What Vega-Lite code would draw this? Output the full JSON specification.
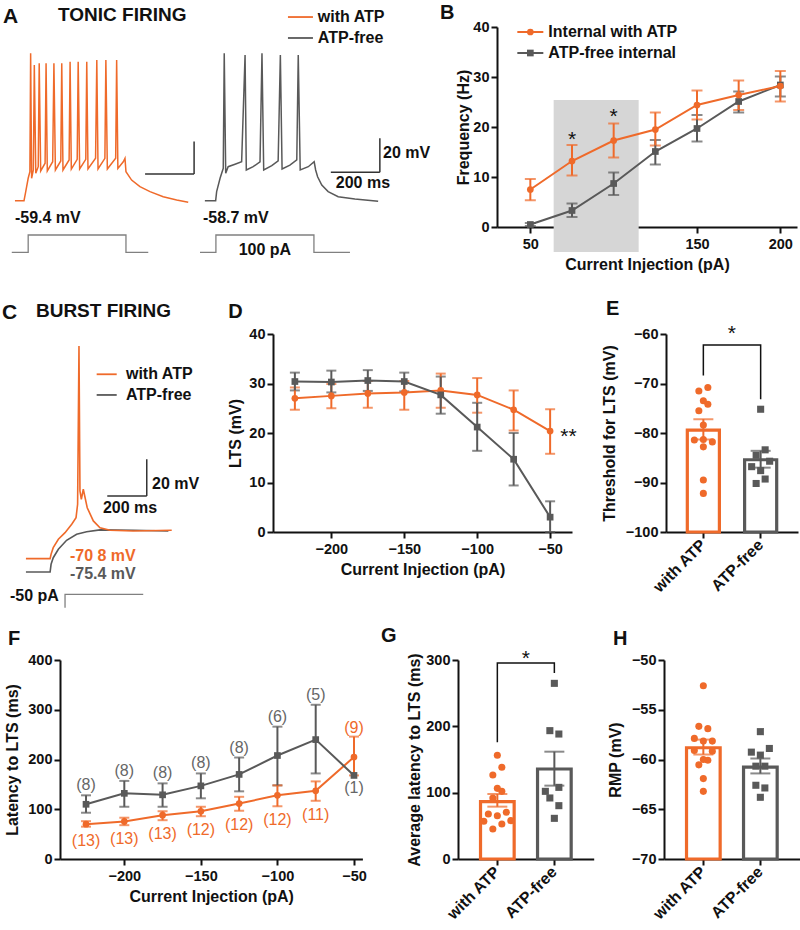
{
"$schema":"https://vega.github.io/schema/vega-lite/v6.json",
"background":"white",
"padding":{"left":0,"top":0,"right":0,"bottom":0},
"spacing":0,
"bounds":"full",
"config":{
 "font":"Liberation Sans",
 "view":{"stroke":null},
 "legend":{"disable":true},
 "axis":{"domainColor":"#111","domainWidth":2,"tickColor":"#111","tickWidth":2,"tickSize":6,"labelFontSize":14.5,"labelFontWeight":"bold","labelColor":"#111","titleFontSize":16,"titleFontWeight":"bold","titleColor":"#111","grid":false,"zindex":1},
 "axisX":{"labelPadding":4,"titlePadding":6},
 "axisY":{"labelPadding":2,"titlePadding":5},
 "title":{"fontSize":20,"fontWeight":"bold","anchor":"start","frame":"group","color":"#111","baseline":"alphabetic"}
},
"datasets":{
 "A_traces":[
  {"trace":"with ATP","t":61,"v":-59.4},{"trace":"with ATP","t":98,"v":-59.4},{"trace":"with ATP","t":105,"v":-53.9},{"trace":"with ATP","t":115,"v":-45.8},{"trace":"with ATP","t":122,"v":-41.8},{"trace":"with ATP","t":125,"v":29.9},{"trace":"with ATP","t":129,"v":-45.8},{"trace":"with ATP","t":136,"v":-40.8},{"trace":"with ATP","t":140,"v":22.8},{"trace":"with ATP","t":146,"v":-42.8},{"trace":"with ATP","t":156,"v":-38.8},{"trace":"with ATP","t":160,"v":23.9},{"trace":"with ATP","t":166,"v":-41.4},{"trace":"with ATP","t":184,"v":-36.7},{"trace":"with ATP","t":188,"v":23.9},{"trace":"with ATP","t":193,"v":-41.4},{"trace":"with ATP","t":215,"v":-35.8},{"trace":"with ATP","t":220,"v":23.9},{"trace":"with ATP","t":226,"v":-40.8},{"trace":"with ATP","t":248,"v":-35.3},{"trace":"with ATP","t":252,"v":23.9},{"trace":"with ATP","t":257,"v":-40.8},{"trace":"with ATP","t":282,"v":-34.7},{"trace":"with ATP","t":286,"v":24.8},{"trace":"with ATP","t":291,"v":-40.2},{"trace":"with ATP","t":315,"v":-34.3},{"trace":"with ATP","t":319,"v":24.8},{"trace":"with ATP","t":325,"v":-40.2},{"trace":"with ATP","t":350,"v":-34.3},{"trace":"with ATP","t":354,"v":24.8},{"trace":"with ATP","t":359,"v":-40.2},{"trace":"with ATP","t":390,"v":-33.7},{"trace":"with ATP","t":395,"v":25.9},{"trace":"with ATP","t":400,"v":-40.2},{"trace":"with ATP","t":428,"v":-33.7},{"trace":"with ATP","t":432,"v":25.9},{"trace":"with ATP","t":438,"v":-40.2},{"trace":"with ATP","t":472,"v":-33.7},{"trace":"with ATP","t":476,"v":25.9},{"trace":"with ATP","t":481,"v":-39.8},{"trace":"with ATP","t":503,"v":-35.8},{"trace":"with ATP","t":510,"v":-33.7},{"trace":"with ATP","t":514,"v":-41.8},{"trace":"with ATP","t":537,"v":-46.9},{"trace":"with ATP","t":571,"v":-50.9},{"trace":"with ATP","t":612,"v":-53.9},{"trace":"with ATP","t":666,"v":-57.0},{"trace":"with ATP","t":721,"v":-59.0},{"trace":"with ATP","t":768,"v":-60.4},
  {"trace":"ATP-free","t":836,"v":-59.4},{"trace":"ATP-free","t":880,"v":-59.4},{"trace":"ATP-free","t":884,"v":-53.9},{"trace":"ATP-free","t":898,"v":-45.8},{"trace":"ATP-free","t":911,"v":-39.8},{"trace":"ATP-free","t":915,"v":29.9},{"trace":"ATP-free","t":921,"v":-42.8},{"trace":"ATP-free","t":931,"v":-38.8},{"trace":"ATP-free","t":959,"v":-37.3},{"trace":"ATP-free","t":986,"v":-35.8},{"trace":"ATP-free","t":1000,"v":28.9},{"trace":"ATP-free","t":1005,"v":-40.8},{"trace":"ATP-free","t":1033,"v":-38.8},{"trace":"ATP-free","t":1061,"v":-35.8},{"trace":"ATP-free","t":1069,"v":29.9},{"trace":"ATP-free","t":1076,"v":-40.8},{"trace":"ATP-free","t":1109,"v":-38.2},{"trace":"ATP-free","t":1135,"v":-35.3},{"trace":"ATP-free","t":1144,"v":28.9},{"trace":"ATP-free","t":1151,"v":-40.2},{"trace":"ATP-free","t":1183,"v":-37.8},{"trace":"ATP-free","t":1211,"v":-34.7},{"trace":"ATP-free","t":1217,"v":28.9},{"trace":"ATP-free","t":1225,"v":-40.8},{"trace":"ATP-free","t":1258,"v":-38.8},{"trace":"ATP-free","t":1282,"v":-35.8},{"trace":"ATP-free","t":1288,"v":-40.8},{"trace":"ATP-free","t":1296,"v":-44.9},{"trace":"ATP-free","t":1313,"v":-49.9},{"trace":"ATP-free","t":1339,"v":-53.9},{"trace":"ATP-free","t":1380,"v":-57.0},{"trace":"ATP-free","t":1448,"v":-58.4},{"trace":"ATP-free","t":1543,"v":-59.8}
 ],
 "A_stim":[
  {"trace":"with ATP","i":0,"t":48,"pA":0},{"trace":"with ATP","i":1,"t":115,"pA":0},{"trace":"with ATP","i":2,"t":115,"pA":100},{"trace":"with ATP","i":3,"t":514,"pA":100},{"trace":"with ATP","i":4,"t":514,"pA":0},{"trace":"with ATP","i":5,"t":605,"pA":0},
  {"trace":"ATP-free","i":0,"t":816,"pA":0},{"trace":"ATP-free","i":1,"t":881,"pA":0},{"trace":"ATP-free","i":2,"t":881,"pA":100},{"trace":"ATP-free","i":3,"t":1281,"pA":100},{"trace":"ATP-free","i":4,"t":1281,"pA":0},{"trace":"ATP-free","i":5,"t":1428,"pA":0}
 ],
 "C_traces":[
  {"trace":"ATP-free","t":132,"v":-78.1},{"trace":"ATP-free","t":255,"v":-78.1},{"trace":"ATP-free","t":260,"v":-73.9},{"trace":"ATP-free","t":271,"v":-70.3},{"trace":"ATP-free","t":297,"v":-65.7},{"trace":"ATP-free","t":339,"v":-60.8},{"trace":"ATP-free","t":390,"v":-57.5},{"trace":"ATP-free","t":441,"v":-56.1},{"trace":"ATP-free","t":509,"v":-55.1},{"trace":"ATP-free","t":678,"v":-55.3},{"trace":"ATP-free","t":857,"v":-55.7},
  {"trace":"with ATP","t":132,"v":-70.8},{"trace":"with ATP","t":255,"v":-70.8},{"trace":"with ATP","t":260,"v":-68.4},{"trace":"with ATP","t":271,"v":-64.8},{"trace":"with ATP","t":297,"v":-60.2},{"trace":"with ATP","t":331,"v":-56.6},{"trace":"with ATP","t":365,"v":-52.0},{"trace":"with ATP","t":387,"v":-48.4},{"trace":"with ATP","t":395,"v":-41.1},{"trace":"with ATP","t":402,"v":45.3},{"trace":"with ATP","t":407,"v":-33.8},{"trace":"with ATP","t":414,"v":-38.4},{"trace":"with ATP","t":424,"v":-32.9},{"trace":"with ATP","t":444,"v":-43.0},{"trace":"with ATP","t":475,"v":-50.2},{"trace":"with ATP","t":509,"v":-53.9},{"trace":"with ATP","t":560,"v":-55.3},{"trace":"with ATP","t":678,"v":-55.7},{"trace":"with ATP","t":874,"v":-55.3}
 ],
 "C_stim":[{"i":0,"t":331,"pA":-50},{"i":1,"t":331,"pA":0},{"i":2,"t":729,"pA":0}],
 "B":[
  {"g":"ATP-free","x":50,"y":0.5,"lo":0.2,"hi":0.8},{"g":"ATP-free","x":75,"y":3.3,"lo":2.0,"hi":4.7},{"g":"ATP-free","x":100,"y":8.7,"lo":6.4,"hi":10.9},{"g":"ATP-free","x":125,"y":15.1,"lo":12.5,"hi":17.4},{"g":"ATP-free","x":150,"y":19.7,"lo":17.1,"hi":22.4},{"g":"ATP-free","x":175,"y":25.1,"lo":22.9,"hi":27.1},{"g":"ATP-free","x":200,"y":28.4,"lo":26.1,"hi":30.1},
  {"g":"with ATP","x":50,"y":7.5,"lo":5.35,"hi":9.6},{"g":"with ATP","x":75,"y":13.2,"lo":10.3,"hi":16.4},{"g":"with ATP","x":100,"y":17.3,"lo":13.9,"hi":20.7},{"g":"with ATP","x":125,"y":19.5,"lo":16.3,"hi":22.9},{"g":"with ATP","x":150,"y":24.4,"lo":21.5,"hi":27.3},{"g":"with ATP","x":175,"y":26.4,"lo":23.4,"hi":29.3},{"g":"with ATP","x":200,"y":28.2,"lo":25.1,"hi":31.2}
 ],
 "D":[
  {"g":"with ATP","x":-225,"y":27.0,"lo":24.7,"hi":29.2},{"g":"with ATP","x":-200,"y":27.5,"lo":25.0,"hi":29.9},{"g":"with ATP","x":-175,"y":28.0,"lo":25.1,"hi":30.5},{"g":"with ATP","x":-150,"y":28.2,"lo":24.7,"hi":30.5},{"g":"with ATP","x":-125,"y":28.6,"lo":25.1,"hi":32.0},{"g":"with ATP","x":-100,"y":27.7,"lo":24.1,"hi":31.1},{"g":"with ATP","x":-75,"y":24.7,"lo":20.5,"hi":28.6},{"g":"with ATP","x":-50,"y":20.4,"lo":15.8,"hi":24.8},
  {"g":"ATP-free","x":-225,"y":30.4,"lo":28.6,"hi":32.2},{"g":"ATP-free","x":-200,"y":30.3,"lo":28.2,"hi":32.6},{"g":"ATP-free","x":-175,"y":30.6,"lo":28.5,"hi":32.7},{"g":"ATP-free","x":-150,"y":30.4,"lo":28.4,"hi":32.2},{"g":"ATP-free","x":-125,"y":27.7,"lo":23.9,"hi":31.4},{"g":"ATP-free","x":-100,"y":21.2,"lo":16.4,"hi":26.1},{"g":"ATP-free","x":-75,"y":14.7,"lo":9.4,"hi":20.0},{"g":"ATP-free","x":-50,"y":3.0,"lo":0,"hi":6.2}
 ],
 "F":[
  {"g":"with ATP","x":-225,"y":70,"lo":65,"hi":76,"n":"(13)"},{"g":"with ATP","x":-200,"y":75.5,"lo":68,"hi":83,"n":"(13)"},{"g":"with ATP","x":-175,"y":88,"lo":78,"hi":96,"n":"(13)"},{"g":"with ATP","x":-150,"y":96,"lo":86,"hi":105,"n":"(12)"},{"g":"with ATP","x":-125,"y":111.5,"lo":97,"hi":125,"n":"(12)"},{"g":"with ATP","x":-100,"y":128,"lo":106,"hi":148,"n":"(12)"},{"g":"with ATP","x":-75,"y":137,"lo":117,"hi":156,"n":"(11)"},{"g":"with ATP","x":-50,"y":205,"lo":168,"hi":246,"n":"(9)"},
  {"g":"ATP-free","x":-225,"y":110,"lo":93,"hi":128,"n":"(8)"},{"g":"ATP-free","x":-200,"y":132,"lo":105,"hi":157,"n":"(8)"},{"g":"ATP-free","x":-175,"y":129,"lo":105,"hi":152,"n":"(8)"},{"g":"ATP-free","x":-150,"y":147,"lo":122,"hi":172,"n":"(8)"},{"g":"ATP-free","x":-125,"y":170,"lo":136,"hi":204,"n":"(8)"},{"g":"ATP-free","x":-100,"y":208,"lo":148,"hi":266,"n":"(6)"},{"g":"ATP-free","x":-75,"y":240,"lo":172,"hi":310,"n":"(5)"},{"g":"ATP-free","x":-50,"y":168,"lo":null,"hi":null,"n":"(1)"}
 ],
 "E_bar":[{"g":"with ATP","m":-79.4,"lo":-81.3,"hi":-77.2},{"g":"ATP-free","m":-85.4,"lo":-87.0,"hi":-83.6}],
 "E_pts":[
  {"g":"with ATP","v":-71.5,"j":-1},{"g":"with ATP","v":-70.8,"j":1},{"g":"with ATP","v":-73.5,"j":0},{"g":"with ATP","v":-74.2,"j":1},{"g":"with ATP","v":-75.5,"j":-1},{"g":"with ATP","v":-78.4,"j":0},{"g":"with ATP","v":-81.4,"j":-2},{"g":"with ATP","v":-81.3,"j":0},{"g":"with ATP","v":-81.8,"j":2},{"g":"with ATP","v":-82.8,"j":0},{"g":"with ATP","v":-89.5,"j":0},{"g":"with ATP","v":-92.2,"j":0},
  {"g":"ATP-free","v":-75.2,"j":0},{"g":"ATP-free","v":-83.4,"j":1},{"g":"ATP-free","v":-84.5,"j":-1},{"g":"ATP-free","v":-85.7,"j":2},{"g":"ATP-free","v":-86.8,"j":-2},{"g":"ATP-free","v":-87.6,"j":0},{"g":"ATP-free","v":-89.3,"j":1},{"g":"ATP-free","v":-90.2,"j":-1}
 ],
 "E_br":[{"g":"with ATP","v":-68.4,"i":0},{"g":"with ATP","v":-62.2,"i":1},{"g":"ATP-free","v":-62.2,"i":2},{"g":"ATP-free","v":-73.2,"i":3}],
 "G_bar":[{"g":"with ATP","m":86.4,"lo":78.9,"hi":98},{"g":"ATP-free","m":135.7,"lo":110.6,"hi":161.8}],
 "G_pts":[
  {"g":"with ATP","v":156.3,"j":0},{"g":"with ATP","v":138.2,"j":1},{"g":"with ATP","v":126.6,"j":-1},{"g":"with ATP","v":106.5,"j":0},{"g":"with ATP","v":102,"j":1},{"g":"with ATP","v":92,"j":-1},{"g":"with ATP","v":67.8,"j":-2},{"g":"with ATP","v":65.3,"j":0},{"g":"with ATP","v":70.4,"j":2},{"g":"with ATP","v":56.8,"j":-3},{"g":"with ATP","v":52.8,"j":1},{"g":"with ATP","v":57.8,"j":3},{"g":"with ATP","v":45.2,"j":-1},
  {"g":"ATP-free","v":264.8,"j":0},{"g":"ATP-free","v":193.5,"j":-1},{"g":"ATP-free","v":188.4,"j":1},{"g":"ATP-free","v":102,"j":-2},{"g":"ATP-free","v":108,"j":1},{"g":"ATP-free","v":92,"j":-1},{"g":"ATP-free","v":80.4,"j":1},{"g":"ATP-free","v":61.3,"j":0}
 ],
 "G_br":[{"g":"with ATP","v":175.9,"i":0},{"g":"with ATP","v":295.5,"i":1},{"g":"ATP-free","v":295.5,"i":2},{"g":"ATP-free","v":280.4,"i":3}],
 "H_bar":[{"g":"with ATP","m":-58.82,"lo":-59.5,"hi":-58.0},{"g":"ATP-free","m":-60.77,"lo":-61.4,"hi":-59.9}],
 "H_pts":[
  {"g":"with ATP","v":-52.59,"j":0},{"g":"with ATP","v":-56.67,"j":-1},{"g":"with ATP","v":-56.9,"j":1},{"g":"with ATP","v":-57.88,"j":-2},{"g":"with ATP","v":-58.15,"j":0},{"g":"with ATP","v":-58.15,"j":2},{"g":"with ATP","v":-59.09,"j":-2},{"g":"with ATP","v":-59.16,"j":2},{"g":"with ATP","v":-60.0,"j":0},{"g":"with ATP","v":-60.54,"j":-1},{"g":"with ATP","v":-60.07,"j":1},{"g":"with ATP","v":-61.92,"j":0},{"g":"with ATP","v":-63.2,"j":0},
  {"g":"ATP-free","v":-57.2,"j":0},{"g":"ATP-free","v":-59.26,"j":-2},{"g":"ATP-free","v":-58.89,"j":2},{"g":"ATP-free","v":-59.56,"j":0},{"g":"ATP-free","v":-60.67,"j":-1},{"g":"ATP-free","v":-60.67,"j":1},{"g":"ATP-free","v":-62.59,"j":-1},{"g":"ATP-free","v":-62.86,"j":1},{"g":"ATP-free","v":-63.8,"j":0}
 ]
},
"vconcat":[
 {"hconcat":[
  {"width":497,"height":200,
   "resolve":{"scale":{"y":"independent"}},
   "layer":[
    {"data":{"name":"A_stim"},"mark":{"type":"line","color":"#808080","strokeWidth":1.3},
     "encoding":{"x":{"field":"t","type":"quantitative","scale":{"domain":[0,2028],"nice":false,"zero":false},"axis":null},
      "y":{"field":"pA","type":"quantitative","scale":{"domain":[146.2,1302.2],"nice":false,"zero":false},"axis":null},
      "detail":{"field":"trace"},"order":{"field":"i"}}},
    {"layer":[
     {"data":{"name":"A_traces"},"mark":{"type":"line","strokeWidth":1.5},
      "encoding":{"x":{"field":"t","type":"quantitative"},
       "y":{"field":"v","type":"quantitative","scale":{"domain":[-75.34,45.86],"nice":false,"zero":false},"axis":null},
       "color":{"field":"trace","type":"nominal","scale":{"domain":["with ATP","ATP-free"],"range":["#EF6A2A","#595959"]}}}},
     {"data":{"values":[{}]},"mark":{"type":"text","text":" ","fontSize":1,"align":"left","baseline":"top"},"encoding":{"x":{"datum":0},"y":{"datum":62.2}}},
     {"data":{"values":[{}]},"mark":{"type":"text","text":" ","fontSize":1,"align":"left","baseline":"bottom"},"encoding":{"x":{"datum":0},"y":{"datum":-110.5}}},
     {"data":{"values":[{}]},"mark":{"type":"rule","color":"#333","strokeWidth":1.5},"encoding":{"x":{"datum":792},"y":{"datum":-23.6},"y2":{"datum":-43.2}}},
     {"data":{"values":[{}]},"mark":{"type":"rule","color":"#333","strokeWidth":1.5},"encoding":{"x":{"datum":592},"x2":{"datum":792},"y":{"datum":-43.2}}},
     {"data":{"values":[{}]},"mark":{"type":"rule","color":"#333","strokeWidth":1.5},"encoding":{"x":{"datum":1550},"y":{"datum":-21.6},"y2":{"datum":-42.2}}},
     {"data":{"values":[{}]},"mark":{"type":"rule","color":"#333","strokeWidth":1.5},"encoding":{"x":{"datum":1350},"x2":{"datum":1550},"y":{"datum":-42.2}}},
     {"data":{"values":[{}]},"mark":{"type":"rule","color":"#EF6A2A","strokeWidth":1.8},"encoding":{"x":{"datum":1175},"x2":{"datum":1277},"y":{"datum":51.9}}},
     {"data":{"values":[{}]},"mark":{"type":"rule","color":"#595959","strokeWidth":1.8},"encoding":{"x":{"datum":1175},"x2":{"datum":1277},"y":{"datum":39.2}}},
     {"data":{"values":[{}]},"mark":{"type":"text","text":"A","fontSize":21,"fontWeight":"bold","align":"left","baseline":"alphabetic","color":"#111"},"encoding":{"x":{"datum":12},"y":{"datum":48.3}}},
     {"data":{"values":[{}]},"mark":{"type":"text","text":"TONIC FIRING","fontSize":19,"fontWeight":"bold","align":"left","baseline":"middle","color":"#111"},"encoding":{"x":{"datum":237},"y":{"datum":53.1}}},
     {"data":{"values":[{}]},"mark":{"type":"text","text":"with ATP","fontSize":16,"fontWeight":"bold","align":"left","baseline":"middle","color":"#111"},"encoding":{"x":{"datum":1297},"y":{"datum":51.9}}},
     {"data":{"values":[{}]},"mark":{"type":"text","text":"ATP-free","fontSize":16,"fontWeight":"bold","align":"left","baseline":"middle","color":"#111"},"encoding":{"x":{"datum":1297},"y":{"datum":39.2}}},
     {"data":{"values":[{}]},"mark":{"type":"text","text":"-59.4 mV","fontSize":16,"fontWeight":"bold","align":"left","baseline":"middle","color":"#111"},"encoding":{"x":{"datum":61},"y":{"datum":-69.9}}},
     {"data":{"values":[{}]},"mark":{"type":"text","text":"-58.7 mV","fontSize":16,"fontWeight":"bold","align":"left","baseline":"middle","color":"#111"},"encoding":{"x":{"datum":828},"y":{"datum":-69.9}}},
     {"data":{"values":[{}]},"mark":{"type":"text","text":"100 pA","fontSize":16,"fontWeight":"bold","align":"center","baseline":"middle","color":"#111"},"encoding":{"x":{"datum":1081},"y":{"datum":-89.3}}},
     {"data":{"values":[{}]},"mark":{"type":"text","text":"20 mV","fontSize":16,"fontWeight":"bold","align":"left","baseline":"middle","color":"#111"},"encoding":{"x":{"datum":1563},"y":{"datum":-30.5}}},
     {"data":{"values":[{}]},"mark":{"type":"text","text":"200 ms","fontSize":16,"fontWeight":"bold","align":"center","baseline":"middle","color":"#111"},"encoding":{"x":{"datum":1481},"y":{"datum":-48.7}}}
    ]}
   ]},
  {"width":300,"height":200,
   "title":{"text":"B","dx":-57,"offset":-4},
   "layer":[
    {"data":{"values":[{}]},"mark":{"type":"rect","color":"#d6d6d6"},
     "encoding":{"x":{"datum":64,"type":"quantitative","scale":{"domain":[30,210],"nice":false,"zero":false},"axis":{"values":[50,100,150,200],"title":"Current Injection (pA)"}},
      "x2":{"datum":115},
      "y":{"datum":-5,"type":"quantitative","scale":{"domain":[0,40],"nice":false},"axis":{"values":[0,10,20,30,40],"title":"Frequency (Hz)","titlePadding":1}},
      "y2":{"datum":25.4}}},
    {"data":{"name":"B"},"mark":{"type":"errorbar","thickness":2,"ticks":{"size":11,"thickness":2}},
     "encoding":{"x":{"field":"x","type":"quantitative","title":"Current Injection (pA)"},"y":{"field":"lo","type":"quantitative","title":"Frequency (Hz)"},"y2":{"field":"hi"},
      "color":{"field":"g","type":"nominal","scale":{"domain":["with ATP","ATP-free"],"range":["#EF6A2A","#595959"]}}}},
    {"data":{"name":"B"},"mark":{"type":"line","strokeWidth":2},
     "encoding":{"x":{"field":"x","type":"quantitative","title":"Current Injection (pA)"},"y":{"field":"y","type":"quantitative","title":"Frequency (Hz)"},
      "color":{"field":"g","type":"nominal","scale":{"domain":["with ATP","ATP-free"],"range":["#EF6A2A","#595959"]}}}},
    {"data":{"name":"B"},"mark":{"type":"point","filled":true,"opacity":1,"size":45},
     "encoding":{"x":{"field":"x","type":"quantitative","title":"Current Injection (pA)"},"y":{"field":"y","type":"quantitative","title":"Frequency (Hz)"},
      "color":{"field":"g","type":"nominal","scale":{"domain":["with ATP","ATP-free"],"range":["#EF6A2A","#595959"]}},
      "shape":{"field":"g","type":"nominal","scale":{"domain":["with ATP","ATP-free"],"range":["circle","square"]}}}},
    {"data":{"values":[{}]},"mark":{"type":"rule","color":"#EF6A2A","strokeWidth":2},"encoding":{"x":{"datum":42.2},"x2":{"datum":57.8},"y":{"datum":39}}},
    {"data":{"values":[{}]},"mark":{"type":"point","shape":"circle","filled":true,"opacity":1,"size":45,"color":"#EF6A2A"},"encoding":{"x":{"datum":50},"y":{"datum":39}}},
    {"data":{"values":[{}]},"mark":{"type":"text","text":"Internal with ATP","fontSize":16,"fontWeight":"bold","align":"left","baseline":"middle","color":"#111"},"encoding":{"x":{"datum":60.8},"y":{"datum":39}}},
    {"data":{"values":[{}]},"mark":{"type":"rule","color":"#595959","strokeWidth":2},"encoding":{"x":{"datum":42.2},"x2":{"datum":57.8},"y":{"datum":34.8}}},
    {"data":{"values":[{}]},"mark":{"type":"point","shape":"square","filled":true,"opacity":1,"size":45,"color":"#595959"},"encoding":{"x":{"datum":50},"y":{"datum":34.8}}},
    {"data":{"values":[{}]},"mark":{"type":"text","text":"ATP-free internal","fontSize":16,"fontWeight":"bold","align":"left","baseline":"middle","color":"#111"},"encoding":{"x":{"datum":60.8},"y":{"datum":34.8}}},
    {"data":{"values":[{}]},"mark":{"type":"text","text":"*","fontSize":21,"dy":3,"baseline":"middle","color":"#111"},"encoding":{"x":{"datum":75},"y":{"datum":18.1}}},
    {"data":{"values":[{}]},"mark":{"type":"text","text":"*","fontSize":21,"dy":3,"baseline":"middle","color":"#111"},"encoding":{"x":{"datum":100},"y":{"datum":22.7}}}
   ]}
  ],"spacing":0,"bounds":"flush"},
 {"hconcat":[
  {"width":272.7,"height":219.5,
   "resolve":{"scale":{"y":"independent"}},
   "layer":[
    {"data":{"name":"C_stim"},"mark":{"type":"line","color":"#808080","strokeWidth":1.3},
     "encoding":{"x":{"field":"t","type":"quantitative","scale":{"domain":[0,1388],"nice":false,"zero":false},"axis":null},
      "y":{"field":"pA","type":"quantitative","scale":{"domain":[152.2,970.9],"nice":false,"zero":false},"axis":null},
      "order":{"field":"i"}}},
    {"layer":[
     {"data":{"name":"C_traces"},"mark":{"type":"line","strokeWidth":1.6},
      "encoding":{"x":{"field":"t","type":"quantitative"},
       "y":{"field":"v","type":"quantitative","scale":{"domain":[-68.0,51.9],"nice":false,"zero":false},"axis":null},
       "color":{"field":"trace","type":"nominal","scale":{"domain":["with ATP","ATP-free"],"range":["#EF6A2A","#595959"]}}}},
     {"data":{"values":[{}]},"mark":{"type":"text","text":" ","fontSize":1,"align":"left","baseline":"top"},"encoding":{"x":{"datum":0},"y":{"datum":78.1}}},
     {"data":{"values":[{}]},"mark":{"type":"text","text":" ","fontSize":1,"align":"left","baseline":"bottom"},"encoding":{"x":{"datum":0},"y":{"datum":-104.8}}},
     {"data":{"values":[{}]},"mark":{"type":"rule","color":"#333","strokeWidth":1.5},"encoding":{"x":{"datum":747},"y":{"datum":-16.5},"y2":{"datum":-36.6}}},
     {"data":{"values":[{}]},"mark":{"type":"rule","color":"#333","strokeWidth":1.5},"encoding":{"x":{"datum":546},"x2":{"datum":747},"y":{"datum":-36.6}}},
     {"data":{"values":[{}]},"mark":{"type":"rule","color":"#EF6A2A","strokeWidth":1.8},"encoding":{"x":{"datum":492},"x2":{"datum":594},"y":{"datum":29.9}}},
     {"data":{"values":[{}]},"mark":{"type":"rule","color":"#595959","strokeWidth":1.8},"encoding":{"x":{"datum":492},"x2":{"datum":594},"y":{"datum":18.6}}},
     {"data":{"values":[{}]},"mark":{"type":"text","text":"C","fontSize":21,"fontWeight":"bold","align":"left","baseline":"alphabetic","color":"#111"},"encoding":{"x":{"datum":10},"y":{"datum":60.1}}},
     {"data":{"values":[{}]},"mark":{"type":"text","text":"BURST FIRING","fontSize":19,"fontWeight":"bold","align":"left","baseline":"middle","color":"#111"},"encoding":{"x":{"datum":183},"y":{"datum":64.4}}},
     {"data":{"values":[{}]},"mark":{"type":"text","text":"with ATP","fontSize":16,"fontWeight":"bold","align":"left","baseline":"middle","color":"#111"},"encoding":{"x":{"datum":641},"y":{"datum":29.9}}},
     {"data":{"values":[{}]},"mark":{"type":"text","text":"ATP-free","fontSize":16,"fontWeight":"bold","align":"left","baseline":"middle","color":"#111"},"encoding":{"x":{"datum":641},"y":{"datum":18.6}}},
     {"data":{"values":[{}]},"mark":{"type":"text","text":"20 mV","fontSize":16,"fontWeight":"bold","align":"left","baseline":"middle","color":"#111"},"encoding":{"x":{"datum":774},"y":{"datum":-29.8}}},
     {"data":{"values":[{}]},"mark":{"type":"text","text":"200 ms","fontSize":16,"fontWeight":"bold","align":"center","baseline":"middle","color":"#111"},"encoding":{"x":{"datum":662},"y":{"datum":-43.0}}},
     {"data":{"values":[{}]},"mark":{"type":"text","text":"-70 8 mV","fontSize":16,"fontWeight":"bold","align":"left","baseline":"middle","color":"#EF6A2A"},"encoding":{"x":{"datum":356},"y":{"datum":-69.3}}},
     {"data":{"values":[{}]},"mark":{"type":"text","text":"-75.4 mV","fontSize":16,"fontWeight":"bold","align":"left","baseline":"middle","color":"#595959"},"encoding":{"x":{"datum":356},"y":{"datum":-79.0}}},
     {"data":{"values":[{}]},"mark":{"type":"text","text":"-50 pA","fontSize":16,"fontWeight":"bold","align":"left","baseline":"middle","color":"#111"},"encoding":{"x":{"datum":51},"y":{"datum":-91.2}}}
    ]}
   ]},
  {"width":299,"height":198,
   "title":{"text":"D","dx":-44.7,"offset":4},
   "layer":[
    {"data":{"name":"D"},"mark":{"type":"errorbar","thickness":2,"ticks":{"size":10,"thickness":2}},
     "encoding":{"x":{"field":"x","type":"quantitative","scale":{"domain":[-240,-35],"nice":false,"zero":false},"axis":{"values":[-200,-150,-100,-50],"title":"Current Injection (pA)"}},
      "y":{"field":"lo","type":"quantitative","scale":{"domain":[0,40],"nice":false},"axis":{"values":[0,10,20,30,40],"title":"LTS (mV)","titlePadding":5}},"y2":{"field":"hi"},
      "color":{"field":"g","type":"nominal","scale":{"domain":["with ATP","ATP-free"],"range":["#EF6A2A","#595959"]}}}},
    {"data":{"name":"D"},"mark":{"type":"line","strokeWidth":2},
     "encoding":{"x":{"field":"x","type":"quantitative"},"y":{"field":"y","type":"quantitative"},
      "color":{"field":"g","type":"nominal","scale":{"domain":["with ATP","ATP-free"],"range":["#EF6A2A","#595959"]}}}},
    {"data":{"name":"D"},"mark":{"type":"point","filled":true,"opacity":1,"size":45},
     "encoding":{"x":{"field":"x","type":"quantitative"},"y":{"field":"y","type":"quantitative"},
      "color":{"field":"g","type":"nominal","scale":{"domain":["with ATP","ATP-free"],"range":["#EF6A2A","#595959"]}},
      "shape":{"field":"g","type":"nominal","scale":{"domain":["with ATP","ATP-free"],"range":["circle","square"]}}}},
    {"data":{"values":[{}]},"mark":{"type":"text","text":"**","fontSize":21,"dy":3,"align":"left","baseline":"middle","color":"#111"},"encoding":{"x":{"datum":-43},"y":{"datum":19.8}}}
   ]},
  {"width":93.3,"height":1,"data":{"values":[{}]},"mark":{"type":"text","text":""}},
  {"width":132,"height":198,
   "title":{"text":"E","dx":-60,"offset":4},
   "layer":[
    {"data":{"name":"E_bar"},"mark":{"type":"bar","fill":"white","strokeWidth":3.2},
     "encoding":{"x":{"field":"g","type":"nominal","scale":{"type":"band","domain":["with ATP","ATP-free"],"paddingInner":0.44,"paddingOuter":0.372},"axis":{"title":null,"labelAngle":-45,"labelAlign":"right","labelBaseline":"middle","labelFontSize":16,"labelPadding":4}},
      "y":{"field":"m","type":"quantitative","scale":{"domain":[-100,-60],"nice":false,"zero":false},"axis":{"values":[-100,-90,-80,-70,-60],"title":"Threshold for LTS (mV)","titlePadding":8}},
      "y2":{"datum":-100},
      "stroke":{"field":"g","type":"nominal","scale":{"domain":["with ATP","ATP-free"],"range":["#EF6A2A","#595959"]}}}},
    {"data":{"name":"E_bar"},"mark":{"type":"errorbar","thickness":2,"ticks":{"size":20,"thickness":2}},
     "encoding":{"x":{"field":"g","type":"nominal"},"y":{"field":"lo","type":"quantitative","title":"Threshold for LTS (mV)"},"y2":{"field":"hi"},
      "color":{"field":"g","type":"nominal","scale":{"domain":["with ATP","ATP-free"],"range":["#EF6A2A","#595959"]}}}},
    {"data":{"name":"E_pts"},"transform":[{"filter":"datum.j == -2"}],"mark":{"type":"point","filled":true,"opacity":1,"size":50,"xOffset":-9},
     "encoding":{"x":{"field":"g","type":"nominal"},"y":{"field":"v","type":"quantitative","title":"Threshold for LTS (mV)"},"color":{"field":"g","type":"nominal","scale":{"domain":["with ATP","ATP-free"],"range":["#EF6A2A","#595959"]}},"shape":{"field":"g","type":"nominal","scale":{"domain":["with ATP","ATP-free"],"range":["circle","square"]}}}},
    {"data":{"name":"E_pts"},"transform":[{"filter":"datum.j == -1"}],"mark":{"type":"point","filled":true,"opacity":1,"size":50,"xOffset":-4.5},
     "encoding":{"x":{"field":"g","type":"nominal"},"y":{"field":"v","type":"quantitative","title":"Threshold for LTS (mV)"},"color":{"field":"g","type":"nominal","scale":{"domain":["with ATP","ATP-free"],"range":["#EF6A2A","#595959"]}},"shape":{"field":"g","type":"nominal","scale":{"domain":["with ATP","ATP-free"],"range":["circle","square"]}}}},
    {"data":{"name":"E_pts"},"transform":[{"filter":"datum.j == 0"}],"mark":{"type":"point","filled":true,"opacity":1,"size":50},
     "encoding":{"x":{"field":"g","type":"nominal"},"y":{"field":"v","type":"quantitative","title":"Threshold for LTS (mV)"},"color":{"field":"g","type":"nominal","scale":{"domain":["with ATP","ATP-free"],"range":["#EF6A2A","#595959"]}},"shape":{"field":"g","type":"nominal","scale":{"domain":["with ATP","ATP-free"],"range":["circle","square"]}}}},
    {"data":{"name":"E_pts"},"transform":[{"filter":"datum.j == 1"}],"mark":{"type":"point","filled":true,"opacity":1,"size":50,"xOffset":4.5},
     "encoding":{"x":{"field":"g","type":"nominal"},"y":{"field":"v","type":"quantitative","title":"Threshold for LTS (mV)"},"color":{"field":"g","type":"nominal","scale":{"domain":["with ATP","ATP-free"],"range":["#EF6A2A","#595959"]}},"shape":{"field":"g","type":"nominal","scale":{"domain":["with ATP","ATP-free"],"range":["circle","square"]}}}},
    {"data":{"name":"E_pts"},"transform":[{"filter":"datum.j == 2"}],"mark":{"type":"point","filled":true,"opacity":1,"size":50,"xOffset":9},
     "encoding":{"x":{"field":"g","type":"nominal"},"y":{"field":"v","type":"quantitative","title":"Threshold for LTS (mV)"},"color":{"field":"g","type":"nominal","scale":{"domain":["with ATP","ATP-free"],"range":["#EF6A2A","#595959"]}},"shape":{"field":"g","type":"nominal","scale":{"domain":["with ATP","ATP-free"],"range":["circle","square"]}}}},
    {"data":{"name":"E_br"},"mark":{"type":"line","color":"#111","strokeWidth":1.5},
     "encoding":{"x":{"field":"g","type":"nominal"},"y":{"field":"v","type":"quantitative","title":"Threshold for LTS (mV)"},"order":{"field":"i"}}},
    {"data":{"values":[{}]},"mark":{"type":"text","text":"*","fontSize":21,"dy":3,"dx":28.6,"baseline":"middle","color":"#111"},"encoding":{"x":{"datum":"with ATP"},"y":{"datum":-59.3}}}
   ]}
  ],"spacing":0,"bounds":"flush"},
 {"hconcat":[
  {"width":59.3,"height":199,"data":{"values":[{}]},"mark":{"type":"text","text":" ","fontSize":1,"align":"left","baseline":"top"},
   "encoding":{"x":{"datum":0,"type":"quantitative","scale":{"domain":[0,1]},"axis":null},"y":{"datum":237.3,"type":"quantitative","scale":{"domain":[0,199],"nice":false},"axis":null}}},
  {"width":302.4,"height":199,
   "title":{"text":"F","dx":-52,"offset":3},
   "layer":[
    {"data":{"name":"F"},"transform":[{"filter":"datum.lo != null"}],"mark":{"type":"errorbar","thickness":2,"ticks":{"size":10,"thickness":2}},
     "encoding":{"x":{"field":"x","type":"quantitative","scale":{"domain":[-242,-44.5],"nice":false,"zero":false},"axis":{"values":[-200,-150,-100,-50],"title":"Current Injection (pA)"}},
      "y":{"field":"lo","type":"quantitative","scale":{"domain":[0,400],"nice":false},"axis":{"values":[0,100,200,300,400],"title":"Latency to LTS (ms)","titlePadding":7}},"y2":{"field":"hi"},
      "color":{"field":"g","type":"nominal","scale":{"domain":["with ATP","ATP-free"],"range":["#EF6A2A","#595959"]}}}},
    {"data":{"name":"F"},"mark":{"type":"line","strokeWidth":2},
     "encoding":{"x":{"field":"x","type":"quantitative"},"y":{"field":"y","type":"quantitative"},
      "color":{"field":"g","type":"nominal","scale":{"domain":["with ATP","ATP-free"],"range":["#EF6A2A","#595959"]}}}},
    {"data":{"name":"F"},"mark":{"type":"point","filled":true,"opacity":1,"size":45},
     "encoding":{"x":{"field":"x","type":"quantitative"},"y":{"field":"y","type":"quantitative"},
      "color":{"field":"g","type":"nominal","scale":{"domain":["with ATP","ATP-free"],"range":["#EF6A2A","#595959"]}},
      "shape":{"field":"g","type":"nominal","scale":{"domain":["with ATP","ATP-free"],"range":["circle","square"]}}}},
    {"data":{"name":"F"},"transform":[{"filter":"datum.g == 'ATP-free' && datum.x < -50"}],"mark":{"type":"text","fontSize":16,"dy":-10,"baseline":"middle","color":"#666"},
     "encoding":{"x":{"field":"x","type":"quantitative"},"y":{"field":"hi","type":"quantitative"},"text":{"field":"n"}}},
    {"data":{"name":"F"},"transform":[{"filter":"datum.g == 'ATP-free' && datum.x == -50"}],"mark":{"type":"text","fontSize":16,"dy":13,"baseline":"middle","color":"#666"},
     "encoding":{"x":{"field":"x","type":"quantitative"},"y":{"field":"y","type":"quantitative"},"text":{"field":"n"}}},
    {"data":{"name":"F"},"transform":[{"filter":"datum.g == 'with ATP' && datum.x < -50"}],"mark":{"type":"text","fontSize":16,"dy":14,"baseline":"middle","color":"#EF6A2A"},
     "encoding":{"x":{"field":"x","type":"quantitative"},"y":{"field":"lo","type":"quantitative"},"text":{"field":"n"}}},
    {"data":{"name":"F"},"transform":[{"filter":"datum.g == 'with ATP' && datum.x == -50"}],"mark":{"type":"text","fontSize":16,"dy":-9,"baseline":"middle","color":"#EF6A2A"},
     "encoding":{"x":{"field":"x","type":"quantitative"},"y":{"field":"hi","type":"quantitative"},"text":{"field":"n"}}}
   ]},
  {"width":94.3,"height":1,"data":{"values":[{}]},"mark":{"type":"text","text":""}},
  {"width":135.7,"height":199,
   "title":{"text":"G","dx":-77,"offset":2},
   "layer":[
    {"data":{"name":"G_bar"},"mark":{"type":"bar","fill":"white","strokeWidth":3.2},
     "encoding":{"x":{"field":"g","type":"nominal","scale":{"type":"band","domain":["with ATP","ATP-free"],"paddingInner":0.41,"paddingOuter":0.395},"axis":{"title":null,"labelAngle":-45,"labelAlign":"right","labelBaseline":"middle","labelFontSize":16,"labelPadding":4}},
      "y":{"field":"m","type":"quantitative","scale":{"domain":[0,300],"nice":false},"axis":{"values":[0,100,200,300],"title":"Average latency to LTS (ms)","titlePadding":3}},
      "y2":{"datum":0},
      "stroke":{"field":"g","type":"nominal","scale":{"domain":["with ATP","ATP-free"],"range":["#EF6A2A","#595959"]}}}},
    {"data":{"name":"G_bar"},"mark":{"type":"errorbar","thickness":2,"ticks":{"size":20,"thickness":2}},
     "encoding":{"x":{"field":"g","type":"nominal"},"y":{"field":"lo","type":"quantitative","title":"Average latency to LTS (ms)"},"y2":{"field":"hi"},
      "color":{"field":"g","type":"nominal","scale":{"domain":["with ATP","ATP-free"],"range":["#EF6A2A","#595959"]}}}},
    {"data":{"name":"G_pts"},"transform":[{"filter":"datum.j == -3"}],"mark":{"type":"point","filled":true,"opacity":1,"size":50,"xOffset":-13.5},
     "encoding":{"x":{"field":"g","type":"nominal"},"y":{"field":"v","type":"quantitative","title":"Average latency to LTS (ms)"},"color":{"field":"g","type":"nominal","scale":{"domain":["with ATP","ATP-free"],"range":["#EF6A2A","#595959"]}},"shape":{"field":"g","type":"nominal","scale":{"domain":["with ATP","ATP-free"],"range":["circle","square"]}}}},
    {"data":{"name":"G_pts"},"transform":[{"filter":"datum.j == -2"}],"mark":{"type":"point","filled":true,"opacity":1,"size":50,"xOffset":-9},
     "encoding":{"x":{"field":"g","type":"nominal"},"y":{"field":"v","type":"quantitative","title":"Average latency to LTS (ms)"},"color":{"field":"g","type":"nominal","scale":{"domain":["with ATP","ATP-free"],"range":["#EF6A2A","#595959"]}},"shape":{"field":"g","type":"nominal","scale":{"domain":["with ATP","ATP-free"],"range":["circle","square"]}}}},
    {"data":{"name":"G_pts"},"transform":[{"filter":"datum.j == -1"}],"mark":{"type":"point","filled":true,"opacity":1,"size":50,"xOffset":-4.5},
     "encoding":{"x":{"field":"g","type":"nominal"},"y":{"field":"v","type":"quantitative","title":"Average latency to LTS (ms)"},"color":{"field":"g","type":"nominal","scale":{"domain":["with ATP","ATP-free"],"range":["#EF6A2A","#595959"]}},"shape":{"field":"g","type":"nominal","scale":{"domain":["with ATP","ATP-free"],"range":["circle","square"]}}}},
    {"data":{"name":"G_pts"},"transform":[{"filter":"datum.j == 0"}],"mark":{"type":"point","filled":true,"opacity":1,"size":50},
     "encoding":{"x":{"field":"g","type":"nominal"},"y":{"field":"v","type":"quantitative","title":"Average latency to LTS (ms)"},"color":{"field":"g","type":"nominal","scale":{"domain":["with ATP","ATP-free"],"range":["#EF6A2A","#595959"]}},"shape":{"field":"g","type":"nominal","scale":{"domain":["with ATP","ATP-free"],"range":["circle","square"]}}}},
    {"data":{"name":"G_pts"},"transform":[{"filter":"datum.j == 1"}],"mark":{"type":"point","filled":true,"opacity":1,"size":50,"xOffset":4.5},
     "encoding":{"x":{"field":"g","type":"nominal"},"y":{"field":"v","type":"quantitative","title":"Average latency to LTS (ms)"},"color":{"field":"g","type":"nominal","scale":{"domain":["with ATP","ATP-free"],"range":["#EF6A2A","#595959"]}},"shape":{"field":"g","type":"nominal","scale":{"domain":["with ATP","ATP-free"],"range":["circle","square"]}}}},
    {"data":{"name":"G_pts"},"transform":[{"filter":"datum.j == 2"}],"mark":{"type":"point","filled":true,"opacity":1,"size":50,"xOffset":9},
     "encoding":{"x":{"field":"g","type":"nominal"},"y":{"field":"v","type":"quantitative","title":"Average latency to LTS (ms)"},"color":{"field":"g","type":"nominal","scale":{"domain":["with ATP","ATP-free"],"range":["#EF6A2A","#595959"]}},"shape":{"field":"g","type":"nominal","scale":{"domain":["with ATP","ATP-free"],"range":["circle","square"]}}}},
    {"data":{"name":"G_pts"},"transform":[{"filter":"datum.j == 3"}],"mark":{"type":"point","filled":true,"opacity":1,"size":50,"xOffset":13.5},
     "encoding":{"x":{"field":"g","type":"nominal"},"y":{"field":"v","type":"quantitative","title":"Average latency to LTS (ms)"},"color":{"field":"g","type":"nominal","scale":{"domain":["with ATP","ATP-free"],"range":["#EF6A2A","#595959"]}},"shape":{"field":"g","type":"nominal","scale":{"domain":["with ATP","ATP-free"],"range":["circle","square"]}}}},
    {"data":{"name":"G_br"},"mark":{"type":"line","color":"#111","strokeWidth":1.5},
     "encoding":{"x":{"field":"g","type":"nominal"},"y":{"field":"v","type":"quantitative","title":"Average latency to LTS (ms)"},"order":{"field":"i"}}},
    {"data":{"values":[{}]},"mark":{"type":"text","text":"*","fontSize":21,"dy":3,"dx":28.5,"baseline":"middle","color":"#111"},"encoding":{"x":{"datum":"with ATP"},"y":{"datum":306.5}}}
   ]},
  {"width":69.3,"height":1,"data":{"values":[{}]},"mark":{"type":"text","text":""}},
  {"width":135.7,"height":199,
   "title":{"text":"H","dx":-51,"offset":3},
   "layer":[
    {"data":{"name":"H_bar"},"mark":{"type":"bar","fill":"white","strokeWidth":3.2},
     "encoding":{"x":{"field":"g","type":"nominal","scale":{"type":"band","domain":["with ATP","ATP-free"],"paddingInner":0.41,"paddingOuter":0.395},"axis":{"title":null,"labelAngle":-45,"labelAlign":"right","labelBaseline":"middle","labelFontSize":16,"labelPadding":4}},
      "y":{"field":"m","type":"quantitative","scale":{"domain":[-70,-50],"nice":false,"zero":false},"axis":{"values":[-70,-65,-60,-55,-50],"title":"RMP (mV)","titlePadding":8}},
      "y2":{"datum":-70},
      "stroke":{"field":"g","type":"nominal","scale":{"domain":["with ATP","ATP-free"],"range":["#EF6A2A","#595959"]}}}},
    {"data":{"name":"H_bar"},"mark":{"type":"errorbar","thickness":2,"ticks":{"size":20,"thickness":2}},
     "encoding":{"x":{"field":"g","type":"nominal"},"y":{"field":"lo","type":"quantitative","title":"RMP (mV)"},"y2":{"field":"hi"},
      "color":{"field":"g","type":"nominal","scale":{"domain":["with ATP","ATP-free"],"range":["#EF6A2A","#595959"]}}}},
    {"data":{"name":"H_pts"},"transform":[{"filter":"datum.j == -2"}],"mark":{"type":"point","filled":true,"opacity":1,"size":50,"xOffset":-9},
     "encoding":{"x":{"field":"g","type":"nominal"},"y":{"field":"v","type":"quantitative","title":"RMP (mV)"},"color":{"field":"g","type":"nominal","scale":{"domain":["with ATP","ATP-free"],"range":["#EF6A2A","#595959"]}},"shape":{"field":"g","type":"nominal","scale":{"domain":["with ATP","ATP-free"],"range":["circle","square"]}}}},
    {"data":{"name":"H_pts"},"transform":[{"filter":"datum.j == -1"}],"mark":{"type":"point","filled":true,"opacity":1,"size":50,"xOffset":-4.5},
     "encoding":{"x":{"field":"g","type":"nominal"},"y":{"field":"v","type":"quantitative","title":"RMP (mV)"},"color":{"field":"g","type":"nominal","scale":{"domain":["with ATP","ATP-free"],"range":["#EF6A2A","#595959"]}},"shape":{"field":"g","type":"nominal","scale":{"domain":["with ATP","ATP-free"],"range":["circle","square"]}}}},
    {"data":{"name":"H_pts"},"transform":[{"filter":"datum.j == 0"}],"mark":{"type":"point","filled":true,"opacity":1,"size":50},
     "encoding":{"x":{"field":"g","type":"nominal"},"y":{"field":"v","type":"quantitative","title":"RMP (mV)"},"color":{"field":"g","type":"nominal","scale":{"domain":["with ATP","ATP-free"],"range":["#EF6A2A","#595959"]}},"shape":{"field":"g","type":"nominal","scale":{"domain":["with ATP","ATP-free"],"range":["circle","square"]}}}},
    {"data":{"name":"H_pts"},"transform":[{"filter":"datum.j == 1"}],"mark":{"type":"point","filled":true,"opacity":1,"size":50,"xOffset":4.5},
     "encoding":{"x":{"field":"g","type":"nominal"},"y":{"field":"v","type":"quantitative","title":"RMP (mV)"},"color":{"field":"g","type":"nominal","scale":{"domain":["with ATP","ATP-free"],"range":["#EF6A2A","#595959"]}},"shape":{"field":"g","type":"nominal","scale":{"domain":["with ATP","ATP-free"],"range":["circle","square"]}}}},
    {"data":{"name":"H_pts"},"transform":[{"filter":"datum.j == 2"}],"mark":{"type":"point","filled":true,"opacity":1,"size":50,"xOffset":9},
     "encoding":{"x":{"field":"g","type":"nominal"},"y":{"field":"v","type":"quantitative","title":"RMP (mV)"},"color":{"field":"g","type":"nominal","scale":{"domain":["with ATP","ATP-free"],"range":["#EF6A2A","#595959"]}},"shape":{"field":"g","type":"nominal","scale":{"domain":["with ATP","ATP-free"],"range":["circle","square"]}}}}
   ]}
  ],"spacing":0,"bounds":"flush"}
]
}
